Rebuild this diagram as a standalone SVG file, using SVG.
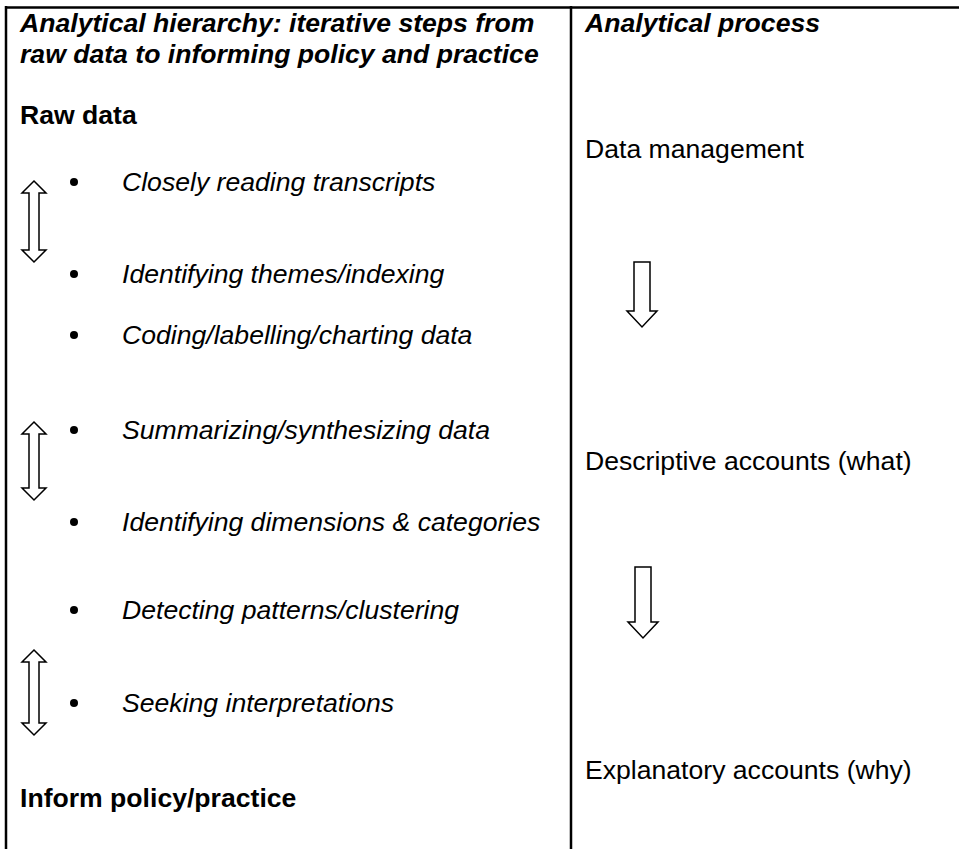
<svg xmlns="http://www.w3.org/2000/svg" width="959" height="849" viewBox="0 0 959 849">
<style>
.t{font-family:"Liberation Sans",Arial,sans-serif;font-size:26.6px;fill:#000}
.bi{font-weight:bold;font-style:italic}
.b{font-weight:bold}
.i{font-style:italic}
.arr{fill:#fff;stroke:#000;stroke-width:1.5;stroke-linejoin:miter}
.rule{stroke:#000;stroke-width:2.5;fill:none}
</style>
<rect width="959" height="849" fill="#fff"/>
<g id="table">
<line class="rule" x1="6" y1="7.5" x2="959" y2="7.5"/>
<line class="rule" x1="6" y1="6" x2="6" y2="849"/>
<line class="rule" x1="571" y1="6" x2="571" y2="849"/>
</g>
<g id="left-header">
<text class="t bi" x="20" y="32">Analytical hierarchy: iterative steps from</text>
<text class="t bi" x="20" y="63">raw data to informing policy and practice</text>
</g>
<g id="raw-data"><text class="t b" x="20" y="124">Raw data</text></g>
<g id="step1"><circle cx="74" cy="182" r="4"/><text class="t i" x="122" y="191">Closely reading transcripts</text></g>
<g id="step2"><circle cx="74" cy="274" r="4"/><text class="t i" x="122" y="283">Identifying themes/indexing</text></g>
<g id="step3"><circle cx="74" cy="335" r="4"/><text class="t i" x="122" y="344">Coding/labelling/charting data</text></g>
<g id="step4"><circle cx="74" cy="430" r="4"/><text class="t i" x="122" y="439">Summarizing/synthesizing data</text></g>
<g id="step5"><circle cx="74" cy="522" r="4"/><text class="t i" x="122" y="531">Identifying dimensions &amp; categories</text></g>
<g id="step6"><circle cx="74" cy="610" r="4"/><text class="t i" x="122" y="619">Detecting patterns/clustering</text></g>
<g id="step7"><circle cx="74" cy="703" r="4"/><text class="t i" x="122" y="712">Seeking interpretations</text></g>
<g id="inform"><text class="t b" x="20" y="807">Inform policy/practice</text></g>
<g id="right-header"><text class="t bi" x="585" y="32">Analytical process</text></g>
<g id="data-management"><text class="t" x="585" y="158">Data management</text></g>
<g id="descriptive"><text class="t" x="585" y="470">Descriptive accounts (what)</text></g>
<g id="explanatory"><text class="t" x="585" y="779">Explanatory accounts (why)</text></g>
<g id="connectors">
<path class="arr" d="M34,181 L46,193 L39,193 L39,250 L46,250 L34,262 L22,250 L29,250 L29,193 L22,193 Z"/>
<path class="arr" d="M34,422 L46,434 L39,434 L39,488 L46,488 L34,500 L22,488 L29,488 L29,434 L22,434 Z"/>
<path class="arr" d="M34,650 L46,662 L39,662 L39,723 L46,723 L34,735 L22,723 L29,723 L29,662 L22,662 Z"/>
<path class="arr" d="M634,262 L650,262 L650,311 L657,311 L642,327 L627,311 L634,311 Z"/>
<path class="arr" d="M635,567 L651,567 L651,622 L658,622 L643,638 L628,622 L635,622 Z"/>
</g>
</svg>
